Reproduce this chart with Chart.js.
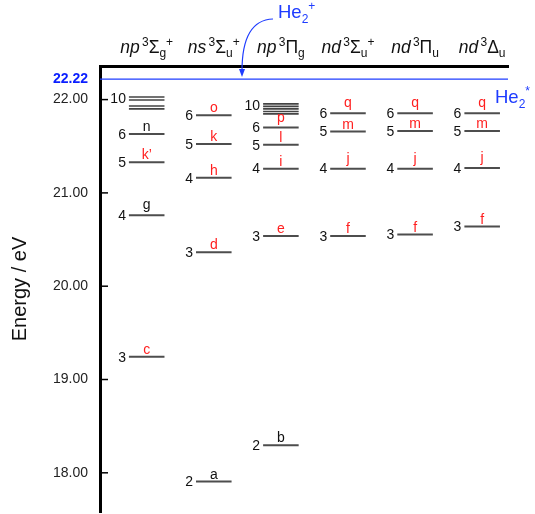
<!DOCTYPE html>
<html>
<head>
<meta charset="utf-8">
<script src="https://cdn.jsdelivr.net/npm/chart.js@4.4.0/dist/chart.umd.min.js"></script>
<style>
  html, body { margin: 0; padding: 0; background: #fff; }
  #wrap { width: 535px; height: 514px; }
</style>
</head>
<body>
<div id="wrap"><canvas id="levelChart"></canvas></div>
<script>
// Axis ticks and ionisation limit (eV)
const tickValues = [18, 19, 20, 21, 22];
const ionLimit = 22.22;

// Column headers: n l ^3 Term _sub ^sup
const headerPrefix = ['np', 'ns', 'np', 'nd', 'nd', 'nd'];
const headerTerm = ['Σ', 'Σ', 'Π', 'Σ', 'Π', 'Δ'];
const headerSub = ['g', 'u', 'g', 'u', 'u', 'u'];
const headerSup = ['+', '+', '', '+', '', ''];

// Rydberg levels (column, principal n, energy in eV, state letter)
const levelCol = [1, 1, 1, 1, 2, 2, 2, 2, 2, 3, 3, 3, 3, 3, 4, 4, 4, 4, 5, 5, 5, 5, 6, 6, 6, 6];
const levelN = [6, 5, 4, 3, 6, 5, 4, 3, 2, 6, 5, 4, 3, 2, 6, 5, 4, 3, 6, 5, 4, 3, 6, 5, 4, 3];
const levelE = [21.632, 21.329, 20.761, 19.245,
                21.833, 21.525, 21.161, 20.364, 17.906,
                21.700, 21.517, 21.260, 20.539, 18.296,
                21.854, 21.657, 21.260, 20.539,
                21.854, 21.664, 21.260, 20.553,
                21.854, 21.664, 21.268, 20.639];
const levelTag = ['n', 'k’', 'g', 'c',
                  'o', 'k', 'h', 'd', 'a',
                  'p', 'l', 'i', 'e', 'b',
                  'q', 'm', 'j', 'f',
                  'q', 'm', 'j', 'f',
                  'q', 'm', 'j', 'f'];
const blackTags = ['a', 'b', 'g', 'n'];

// High-n levels piling up below the limit (top one labelled n = 10)
const highCol = [1, 1, 1, 1, 3, 3, 3, 3, 3];
const highE = [22.028, 21.996, 21.932, 21.900, 21.954, 21.927, 21.900, 21.873, 21.847];
const highLabel = '10';

const FONT = '"Liberation Sans", Arial, sans-serif';
const BLUE = '#1e3cff';
const RED = '#ff1f1f';
const HALF = 0.265;
const X_MIN = 0.304, X_MAX = 6.385;

// one segmented line per group, gaps between levels
function segments(cols, energies) {
    const pts = [];
    cols.forEach((c, i) => {
        pts.push({x: c - HALF, y: energies[i]});
        pts.push({x: c + HALF, y: energies[i]});
        pts.push({x: c, y: null});
    });
    return pts;
}

function drawRich(ctx, parts, x, base, align) {
    const fontOf = p => (p[3] ? 'italic ' : '') + p[1] + 'px ' + FONT;
    let w = 0;
    parts.forEach(p => { ctx.font = fontOf(p); w += ctx.measureText(p[0]).width; });
    let px = align === 'center' ? x - w / 2 : x;
    ctx.textAlign = 'left';
    ctx.textBaseline = 'alphabetic';
    parts.forEach(p => {
        ctx.font = fontOf(p);
        ctx.fillText(p[0], px, base + p[2]);
        px += ctx.measureText(p[0]).width;
    });
}

const diagramPlugin = {
    id: 'diagram',
    afterDatasetsDraw(chart) {
        const {ctx, chartArea: a, scales: {x, y}} = chart;
        ctx.save();

        // inward tick marks
        ctx.strokeStyle = '#000';
        ctx.lineWidth = 1.5;
        tickValues.forEach(v => {
            const py = y.getPixelForValue(v);
            ctx.beginPath();
            ctx.moveTo(a.left, py);
            ctx.lineTo(a.left + 8, py);
            ctx.stroke();
        });

        // level numbers and letters
        levelE.forEach((e, i) => {
            const py = y.getPixelForValue(e);
            ctx.font = '14px ' + FONT;
            ctx.fillStyle = '#111';
            ctx.textAlign = 'right';
            ctx.textBaseline = 'middle';
            ctx.fillText(String(levelN[i]), x.getPixelForValue(levelCol[i] - HALF) - 3, py + 1);
            const tag = levelTag[i];
            ctx.fillStyle = blackTags.includes(tag) ? '#111' : RED;
            ctx.textAlign = 'center';
            ctx.textBaseline = 'alphabetic';
            const lift = /[gjpq]/.test(tag) ? 6 : 3;
            ctx.fillText(tag, x.getPixelForValue(levelCol[i]), py - lift);
        });

        // "10" label on the top of each high-n pile
        [1, 3].forEach(c => {
            const top = Math.max(...highE.filter((e, i) => highCol[i] === c));
            ctx.font = '14px ' + FONT;
            ctx.fillStyle = '#111';
            ctx.textAlign = 'right';
            ctx.textBaseline = 'middle';
            ctx.fillText(highLabel, x.getPixelForValue(c - HALF) - 3, y.getPixelForValue(top) + 2);
        });

        // column headers
        ctx.fillStyle = '#111';
        headerPrefix.forEach((pre, i) => {
            const parts = [[pre, 17.5, 0, true], [' ', 8, 0], ['3', 12, -7], [headerTerm[i], 17.5, 0], [headerSub[i], 12, 4]];
            if (headerSup[i]) parts.push([headerSup[i], 12, -7]);
            drawRich(ctx, parts, x.getPixelForValue(i + 1), 53, 'center');
        });

        // He2+ arrow onto the ionisation limit
        const yl = y.getPixelForValue(ionLimit);
        const tipX = a.left + 142, tipY = yl - 2;
        ctx.strokeStyle = BLUE;
        ctx.fillStyle = BLUE;
        ctx.lineWidth = 1.2;
        ctx.beginPath();
        ctx.moveTo(tipX + 31, 19);
        ctx.quadraticCurveTo(tipX, 20, tipX, tipY - 6);
        ctx.stroke();
        ctx.beginPath();
        ctx.moveTo(tipX, tipY);
        ctx.lineTo(tipX - 3, tipY - 8);
        ctx.lineTo(tipX + 3, tipY - 8);
        ctx.closePath();
        ctx.fill();
        drawRich(ctx, [['He', 18.5, 0], ['2', 12, 5], ['+', 12, -8]], tipX + 36, 18, 'left');
        drawRich(ctx, [['He', 18.5, 0], ['2', 12, 5], ['*', 12, -8]], 495, 103, 'left');

        ctx.restore();
    }
};

new Chart(document.getElementById('levelChart'), {
    type: 'scatter',
    data: {
        datasets: [{
            data: segments(levelCol, levelE),
            showLine: true,
            spanGaps: false,
            borderColor: '#4d4d4d',
            borderWidth: 2,
            pointRadius: 0
        }, {
            data: segments(highCol, highE),
            showLine: true,
            spanGaps: false,
            borderColor: '#444',
            borderWidth: 1.6,
            pointRadius: 0
        }, {
            data: [{x: X_MIN, y: ionLimit}, {x: X_MAX, y: ionLimit}],
            showLine: true,
            borderColor: BLUE,
            borderWidth: 1.2,
            pointRadius: 0
        }]
    },
    options: {
        responsive: true,
        maintainAspectRatio: false,
        animation: false,
        layout: { padding: { top: 66, right: 27, bottom: 2, left: 0 } },
        plugins: {
            legend: { display: false },
            tooltip: { enabled: false }
        },
        scales: {
            x: {
                type: 'linear',
                position: 'top',
                min: X_MIN,
                max: X_MAX,
                ticks: { display: false },
                grid: { display: false, drawTicks: false },
                border: { display: true, color: '#000', width: 3 },
                afterFit: s => { s.height = 0; s.paddingLeft = 0; s.paddingRight = 0; }
            },
            y: {
                type: 'linear',
                min: 17.58,
                max: 22.36,
                afterFit: s => { s.width = 100; s.paddingTop = 0; s.paddingBottom = 0; },
                afterBuildTicks: s => {
                    s.ticks = tickValues.concat([ionLimit]).map(v => ({value: v}));
                },
                grid: { display: false, drawTicks: false },
                border: { display: true, color: '#000', width: 3 },
                ticks: {
                    padding: 12,
                    callback: v => v.toFixed(2),
                    color: c => c.tick && c.tick.value === ionLimit ? '#0a1eff' : '#222',
                    font: c => ({
                        family: FONT,
                        size: 14,
                        weight: c.tick && c.tick.value === ionLimit ? 'bold' : 'normal'
                    })
                },
                title: {
                    display: true,
                    text: 'Energy / eV',
                    color: '#111',
                    font: { family: FONT, size: 20 },
                    padding: { top: 8, bottom: 0 }
                }
            }
        }
    },
    plugins: [diagramPlugin]
});
</script>
</body>
</html>
